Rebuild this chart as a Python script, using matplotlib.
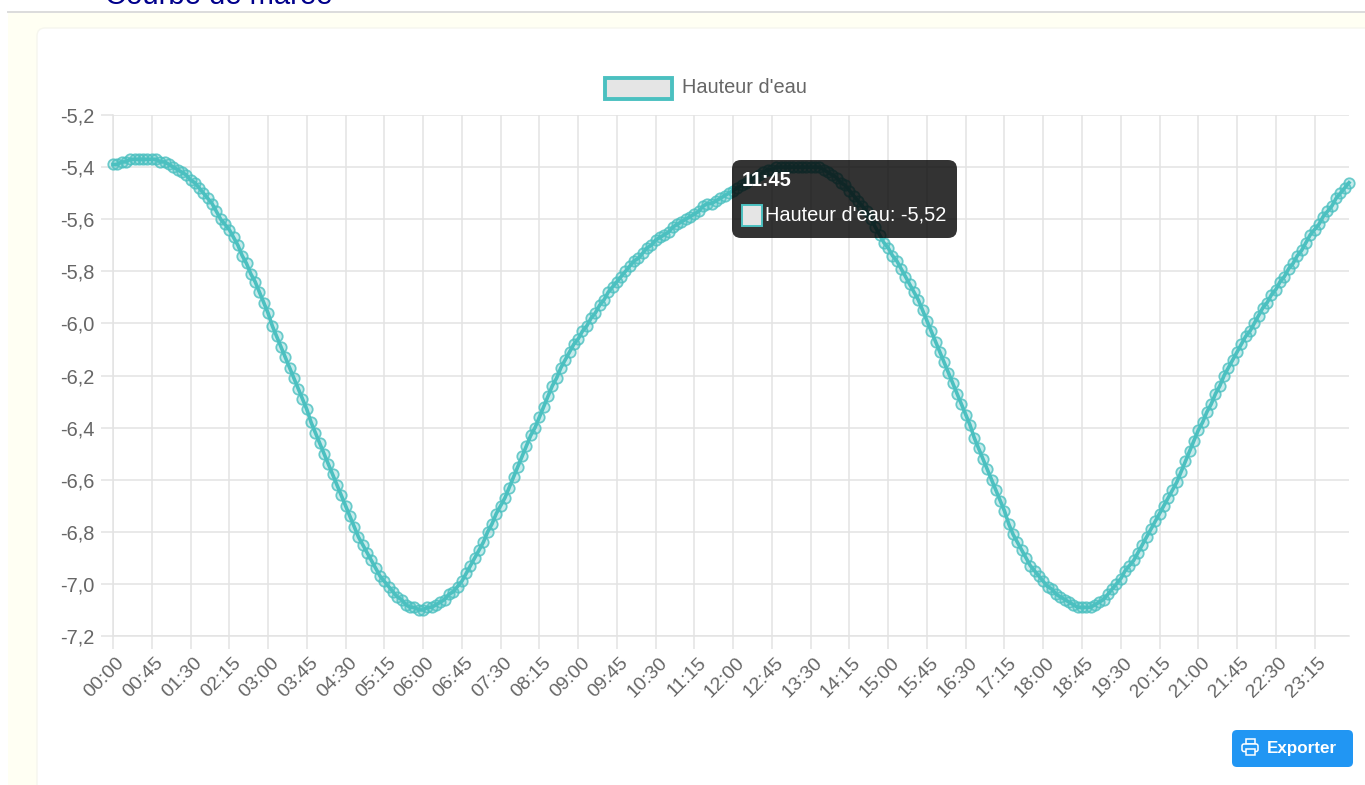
import matplotlib
matplotlib.use("Agg")
import matplotlib.pyplot as plt
from matplotlib.patches import FancyBboxPatch, Rectangle
from matplotlib.transforms import ScaledTranslation

plt.rcParams['font.family'] = ['Liberation Sans', 'DejaVu Sans']

# hauteur d'eau toutes les 5 minutes, une ligne par heure
h00 = [-5.39, -5.39, -5.38, -5.38, -5.37, -5.37, -5.37, -5.37, -5.37, -5.37, -5.37, -5.38]
h01 = [-5.38, -5.39, -5.40, -5.41, -5.42, -5.43, -5.45, -5.46, -5.48, -5.50, -5.52, -5.54]
h02 = [-5.57, -5.60, -5.62, -5.64, -5.67, -5.70, -5.74, -5.77, -5.81, -5.84, -5.88, -5.92]
h03 = [-5.96, -6.01, -6.05, -6.09, -6.13, -6.17, -6.21, -6.25, -6.29, -6.33, -6.38, -6.42]
h04 = [-6.46, -6.50, -6.54, -6.58, -6.62, -6.66, -6.70, -6.74, -6.78, -6.82, -6.85, -6.88]
h05 = [-6.91, -6.94, -6.97, -6.99, -7.01, -7.03, -7.05, -7.06, -7.08, -7.09, -7.09, -7.10]
h06 = [-7.10, -7.09, -7.09, -7.08, -7.07, -7.06, -7.04, -7.03, -7.01, -6.99, -6.96, -6.93]
h07 = [-6.90, -6.87, -6.84, -6.80, -6.77, -6.73, -6.70, -6.67, -6.63, -6.59, -6.55, -6.51]
h08 = [-6.47, -6.43, -6.40, -6.36, -6.32, -6.28, -6.24, -6.21, -6.17, -6.14, -6.11, -6.08]
h09 = [-6.06, -6.03, -6.01, -5.98, -5.96, -5.93, -5.91, -5.88, -5.86, -5.84, -5.82, -5.80]
h10 = [-5.78, -5.76, -5.75, -5.73, -5.71, -5.70, -5.68, -5.67, -5.66, -5.65, -5.63, -5.62]
h11 = [-5.61, -5.60, -5.59, -5.58, -5.57, -5.55, -5.54, -5.54, -5.53, -5.52, -5.51, -5.50]
h12 = [-5.49, -5.48, -5.47, -5.46, -5.45, -5.44, -5.43, -5.42, -5.41, -5.41, -5.40, -5.40]
h13 = [-5.40, -5.40, -5.40, -5.40, -5.40, -5.40, -5.40, -5.40, -5.40, -5.41, -5.42, -5.43]
h14 = [-5.44, -5.46, -5.47, -5.49, -5.51, -5.53, -5.55, -5.57, -5.60, -5.63, -5.66, -5.69]
h15 = [-5.71, -5.74, -5.76, -5.79, -5.82, -5.85, -5.88, -5.91, -5.95, -5.99, -6.03, -6.07]
h16 = [-6.11, -6.15, -6.19, -6.23, -6.27, -6.31, -6.35, -6.39, -6.44, -6.48, -6.52, -6.56]
h17 = [-6.60, -6.64, -6.68, -6.72, -6.77, -6.81, -6.84, -6.87, -6.90, -6.93, -6.95, -6.97]
h18 = [-6.99, -7.01, -7.02, -7.04, -7.05, -7.06, -7.07, -7.08, -7.09, -7.09, -7.09, -7.09]
h19 = [-7.08, -7.07, -7.06, -7.04, -7.02, -7.00, -6.98, -6.95, -6.93, -6.91, -6.88, -6.85]
h20 = [-6.82, -6.79, -6.76, -6.73, -6.70, -6.67, -6.64, -6.61, -6.57, -6.53, -6.49, -6.45]
h21 = [-6.41, -6.38, -6.34, -6.31, -6.27, -6.24, -6.20, -6.17, -6.14, -6.11, -6.08, -6.05]
h22 = [-6.03, -6.00, -5.97, -5.94, -5.92, -5.89, -5.87, -5.84, -5.82, -5.79, -5.77, -5.74]
h23 = [-5.72, -5.69, -5.66, -5.64, -5.62, -5.59, -5.57, -5.55, -5.52, -5.50, -5.48, -5.46]

hauteurs = (h00 + h01 + h02 + h03 + h04 + h05 + h06 + h07 + h08 + h09 + h10 + h11
            + h12 + h13 + h14 + h15 + h16 + h17 + h18 + h19 + h20 + h21 + h22 + h23)
heures = [f"{i // 12:02d}:{(i % 12) * 5:02d}" for i in range(288)]
graduations_y = [-7.2, -7.0, -6.8, -6.6, -6.4, -6.2, -6.0, -5.8, -5.6, -5.4, -5.2]

W, H = 1365, 785
TEAL = (75 / 255, 192 / 255, 192 / 255)
GRILLE = "#e3e3e3"
GRIS = "#666666"


def fs(px):
    return px * 0.72


fig = plt.figure(figsize=(W / 100, H / 100), dpi=100, facecolor="white")

# fond de page, en coordonnees pixels
fond = fig.add_axes([0, 0, 1, 1], zorder=0)
fond.set_xlim(0, W)
fond.set_ylim(H, 0)
fond.axis("off")
fond.add_patch(Rectangle((8, 13), W, H, fc="#fffff3", ec="none"))
fond.plot([8, W], [12, 12], color="#dcdcdc", lw=1.4)
fond.text(105, 4, "Courbe de marée", color="#00008b", fontsize=fs(29.3), va="baseline", clip_on=False)
fond.add_patch(FancyBboxPatch((37, 28), 1400, 900, boxstyle="round,pad=0,rounding_size=8",
                              fc="white", ec="#f6f6ee", lw=1))

# le graphique
ax = fig.add_axes([113 / W, 1 - 636 / H, (1349 - 113) / W, (636 - 115) / H], zorder=1)
ax.patch.set_alpha(0)
x = list(range(len(hauteurs)))
ax.plot(x, hauteurs, color=TEAL, lw=2.6, marker="o", ms=7.5, mew=1.3,
        mfc=TEAL + (0.3,), mec=TEAL + (0.8,), clip_on=False, zorder=3)
ax.set_xlim(0, 287)
ax.set_ylim(-7.2, -5.2)
ax.set_yticks(graduations_y)
ax.set_yticklabels([f"{v:.1f}".replace(".", ",") for v in graduations_y])
ax.set_xticks(x[::9])
ax.set_xticklabels(heures[::9], rotation=45, ha="right", va="top", rotation_mode="anchor")
ax.grid(True, color=GRILLE, lw=1.1)
ax.set_axisbelow(True)
ax.tick_params(axis="both", color=GRILLE, labelcolor=GRIS, width=1.1)
ax.tick_params(axis="y", length=9, pad=4, labelsize=fs(20))
ax.tick_params(axis="x", length=9, pad=4, labelsize=fs(19.5))
decalage = ScaledTranslation(3 / 100, 0, fig.dpi_scale_trans)
for lab in ax.get_xticklabels():
    lab.set_transform(lab.get_transform() + decalage)
for s in ["top", "right"]:
    ax.spines[s].set_visible(False)
for s in ["left", "bottom"]:
    ax.spines[s].set_color(GRILLE)
    ax.spines[s].set_linewidth(1.1)

# legende, tooltip, bouton
dessus = fig.add_axes([0, 0, 1, 1], zorder=2)
dessus.set_xlim(0, W)
dessus.set_ylim(H, 0)
dessus.axis("off")
dessus.add_patch(Rectangle((605, 78), 67, 21, fc="#e5e5e5", ec=TEAL, lw=2.8))
dessus.text(682, 87.5, "Hauteur d'eau", color=GRIS, fontsize=fs(20), va="center")

dessus.add_patch(FancyBboxPatch((732, 160), 225, 78, boxstyle="round,pad=0,rounding_size=9",
                                fc=(0, 0, 0, 0.8), ec="none"))
dessus.text(742, 180.5, heures[141], color="white", fontsize=fs(20), fontweight="bold", va="center")
dessus.add_patch(Rectangle((742, 205), 20, 21, fc="#e5e5e5", ec=TEAL, lw=1.4))
dessus.text(765, 215, "Hauteur d'eau: " + f"{h11[9]:.2f}".replace(".", ","), color="white",
            fontsize=fs(20), va="center")

BLEU = "#2196f3"
dessus.add_patch(FancyBboxPatch((1232, 730), 121, 37, boxstyle="round,pad=0,rounding_size=5",
                                fc=BLEU, ec="none"))
dessus.text(1267, 748.5, "Exporter", color="white", fontsize=fs(17), fontweight="bold", va="center")
# icone imprimante
dessus.add_patch(Rectangle((1245.5, 739), 9, 5, fc="none", ec="white", lw=1.1))
dessus.add_patch(FancyBboxPatch((1242, 744), 16, 7.5, boxstyle="round,pad=0,rounding_size=2",
                                fc=BLEU, ec="white", lw=1.1))
dessus.add_patch(Rectangle((1245.5, 749), 9, 6, fc=BLEU, ec="white", lw=1.1))

fig.savefig("out.png", dpi=100)
